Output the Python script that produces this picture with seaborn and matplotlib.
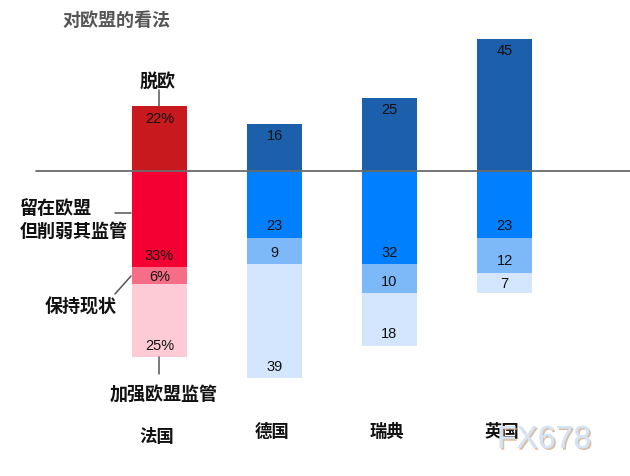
import matplotlib
matplotlib.use('Agg')
import matplotlib.pyplot as plt
import matplotlib.patheffects as pe
from matplotlib.lines import Line2D
import seaborn as sns
import pandas as pd

# ---- data ----
countries = ['法国', '德国', '瑞典', '英国']
leave = [22, 16, 25, 45]
remain_less = [33, 23, 32, 23]
status_quo = [6, 9, 10, 12]
more_integration = [25, 39, 18, 7]
label_suffix = ['%', '', '', '']

title = '对欧盟的看法'
ann_leave = '脱欧'
ann_remain = '留在欧盟\n但削弱其监管'
ann_status = '保持现状'
ann_more = '加强欧盟监管'
watermark = 'FX678'

red_colors = ['#C81A1E', '#F50033', '#F56D87', '#FCCBD6']
blue_colors = ['#1C5FAA', '#0080FF', '#7DB9F9', '#D3E6FD']

sns.set_theme(style='white')
plt.rcParams['font.family'] = ['Noto Sans CJK SC', 'DejaVu Sans']

W, H = 630, 477
fig = plt.figure(figsize=(6.3, 4.77), dpi=100)
fig.patch.set_facecolor('white')
ax = fig.add_axes([0, 0, 1, 1])

PX = 2.92      # pixels per unit
BASE = 171.5   # baseline pixel row
SPACING = 115
X0 = 159.5

df = pd.DataFrame({'country': countries, 'leave': leave,
                   'remain_less': remain_less, 'status_quo': status_quo,
                   'more_integration': more_integration})
df['cum1'] = -df['remain_less']
df['cum2'] = -(df['remain_less'] + df['status_quo'])
df['cum3'] = -(df['remain_less'] + df['status_quo'] + df['more_integration'])

for col, li in [('leave', 0), ('cum3', 3), ('cum2', 2), ('cum1', 1)]:
    pal = {c: (red_colors[li] if c == '法国' else blue_colors[li]) for c in countries}
    sns.barplot(data=df, x='country', y=col, hue='country', palette=pal,
                order=countries, hue_order=countries, width=55 / SPACING,
                saturation=1, legend=False, ax=ax, linewidth=0, errorbar=None)

ax.set_xlim(-X0 / SPACING, (W - X0) / SPACING)
ax.set_ylim(-(H - BASE) / PX, BASE / PX)
ax.axis('off')
ax.axhline(0, xmin=36 / W, xmax=1, color='#6a6a6a', lw=1.3, zorder=5)

num_kw = dict(ha='center', va='center', fontsize=10.5, family=['Liberation Sans'], color='#111111', zorder=6)
for i in range(len(countries)):
    ax.text(i, leave[i] - 3.9, f'{leave[i]}{label_suffix[i]}', **num_kw)
    start = 0
    for seg in (remain_less, status_quo, more_integration):
        s = seg[i]
        bottom = start - s
        ax.text(i, bottom + min(s / 2, 4.2), f'{s}{label_suffix[i]}', **num_kw)
        start = bottom

# category labels
cat_y = [437, 432, 432, 432]
for i, c in enumerate(countries):
    ax.text(i - 0.02, (BASE - cat_y[i]) / PX, c, ha='center', va='center',
            fontsize=12.5, fontweight='bold', color='#111111')

def fx(x):
    return x / W

def fy(y):
    return 1 - y / H

cjk_kw = dict(fontsize=13, fontweight='bold', color='#111111', va='center')
fig.text(fx(62), fy(20.5), title, fontsize=13, fontweight='bold', color='#555555', va='center', ha='left')
fig.text(fx(158), fy(81), ann_leave, ha='center', **cjk_kw)
r1, r2 = ann_remain.split('\n')
fig.text(fx(20), fy(209), r1, ha='left', **cjk_kw)
fig.text(fx(20), fy(231), r2, ha='left', **cjk_kw)
fig.text(fx(45), fy(307), ann_status, ha='left', **cjk_kw)
fig.text(fx(164), fy(394), ann_more, ha='center', **cjk_kw)

for (xa, ya), (xb, yb) in [((159, 91), (159, 107)), ((115, 214), (131, 214)),
                           ((115, 295), (131, 277)), ((159, 358), (159, 375))]:
    fig.add_artist(Line2D([fx(xa), fx(xb)], [fy(ya), fy(yb)], color='#555555', lw=1.1))

fig.text(fx(497), fy(441), watermark, ha='left', va='center', fontsize=23,
         family=['Liberation Sans'], color='#D5E4F4',
         path_effects=[pe.withSimplePatchShadow(offset=(1.2, -1.2), shadow_rgbFace='#C9A57E', alpha=0.7), pe.Normal()])

fig.savefig('out.png', dpi=100, facecolor='white')
